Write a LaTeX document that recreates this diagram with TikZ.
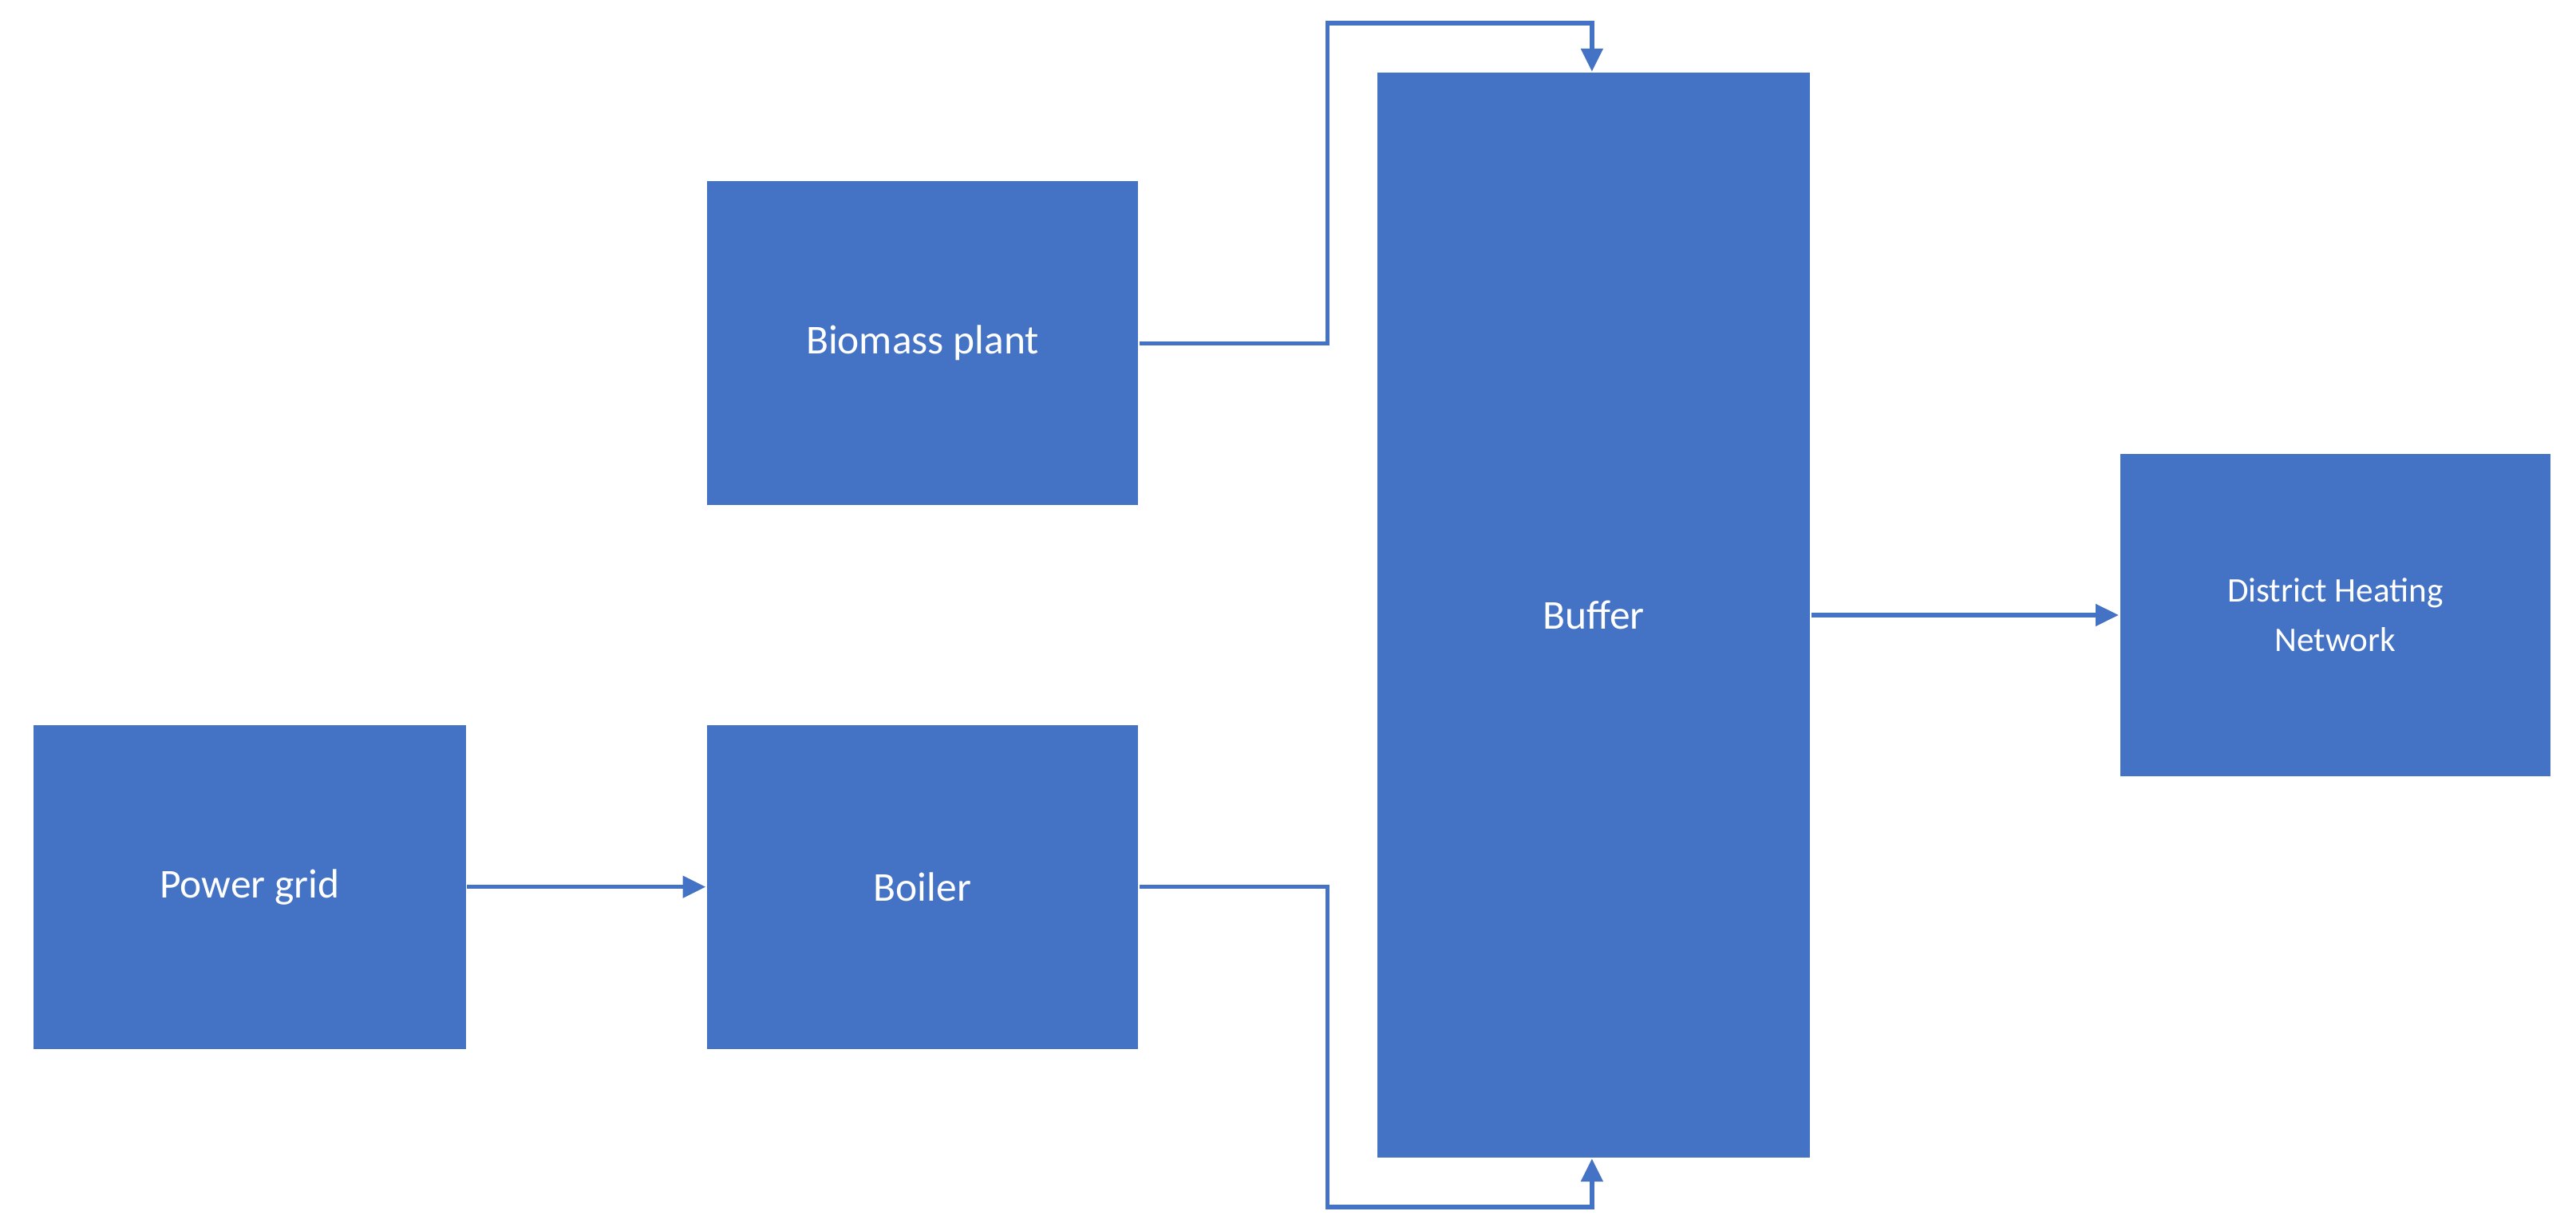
\documentclass[tikz,border=0pt]{standalone}
\usepackage{fontspec}
\setmainfont{Carlito}
\usetikzlibrary{arrows.meta}
\definecolor{blu}{HTML}{4472C4}
\begin{document}
\begin{tikzpicture}[x=1pt,y=-1pt,
 box/.style={fill=blu,draw=white,line width=0.8pt,text=white,font=\fontsize{25}{30}\selectfont,align=center,inner sep=0},
 con/.style={draw=blu,line width=2.6pt,-{Triangle[length=14pt,width=13pt]}}]
\useasboundingbox (0,0) rectangle (1568,747);
\node[box,minimum width=263pt,minimum height=198pt] (bio) at (561.5,209) {Biomass plant};
\node[box,minimum width=264pt,minimum height=198pt] (pg) at (152,540) {Power grid};
\node[box,minimum width=263pt,minimum height=198pt] (boi) at (561.5,540) {Boiler};
\node[box,minimum width=264pt,minimum height=661pt] (buf) at (970,374.5) {Buffer};
\node[box,minimum width=263pt,minimum height=197pt,font=\fontsize{21}{30}\selectfont] (dhn) at (1421.5,374.5) {District Heating\\Network};
\coordinate (t1) at (808,14);
\coordinate (t2) at (808,735);
\draw[con] (bio.east) -| (t1) -| (buf.north -| 969,0);
\draw[con] (boi.east) -| (t2) -| (buf.south -| 969,0);
\draw[con] (pg.east) -- (boi.west);
\draw[con] (buf.east) -- (dhn.west);
\end{tikzpicture}
\end{document}
